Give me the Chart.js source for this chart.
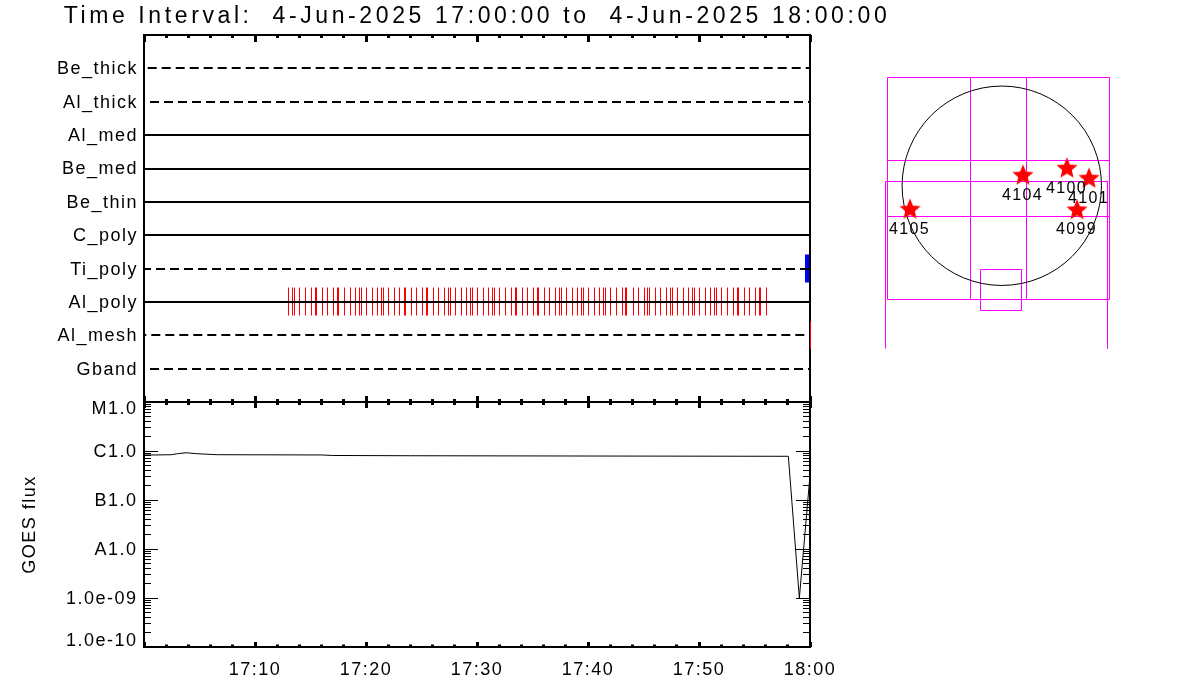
<!DOCTYPE html>
<html>
<head>
<meta charset="utf-8">
<script src="https://cdn.jsdelivr.net/npm/chart.js@4"></script>
<style>
html,body{margin:0;padding:0;background:#fff;width:1200px;height:700px;overflow:hidden}
canvas{position:absolute;left:0;top:0}
</style>
</head>
<body>
<canvas id="rows" width="1200" height="700"></canvas>
<canvas id="goes" width="1200" height="700"></canvas>
<canvas id="sun" width="1200" height="700"></canvas>
<script>
// ---------- data ----------
const titleText = 'Time Interval:  4-Jun-2025 17:00:00 to  4-Jun-2025 18:00:00';
const filterNames = ['Gband','Al_mesh','Al_poly','Ti_poly','C_poly','Be_thin','Be_med','Al_med','Al_thick','Be_thick'];
const filterRows  = [1,2,3,4,5,6,7,8,9,10];
const filterDashed = [true,true,false,true,false,false,false,false,true,true];
const filterDashPhase = [8,6.7,0,2,0,0,0,0,8,10.3];
const rowSpan = [0,60];
const alPolyRow = 3, tiPolyRow = 4, alMeshRow = 2;
const alPolyEvents = [13.00,13.36,13.54,13.99,14.53,15.07,15.43,15.56,16.07,16.52,17.06,17.42,17.54,18.05,18.59,19.04,19.40,19.58,20.03,20.57,21.02,21.38,21.56,22.01,22.55,23.00,23.45,23.57,24.08,24.53,25.07,25.43,25.56,26.07,26.52,27.05,27.42,27.60,28.05,28.59,29.04,29.40,29.58,30.03,30.57,31.02,31.38,31.56,32.01,32.55,33.09,33.45,33.57,34.08,34.53,35.07,35.43,35.55,36.07,36.52,37.06,37.42,37.60,38.05,38.59,39.04,39.40,39.58,40.03,40.57,41.02,41.38,41.56,42.01,42.55,43.09,43.39,43.51,44.08,44.53,45.07,45.38,45.50,46.07,46.52,47.06,47.42,47.60,48.05,48.59,49.04,49.40,49.58,50.03,50.57,51.02,51.38,51.56,52.01,52.55,53.09,53.45,53.57,54.08,54.53,55.07,55.43,55.55,56.07];
const tiPolyEvents = [59.6,59.7,59.8,59.9];
const alMeshEvents = [60];
const eventHalfHeight = 0.42;

const goesMinutes = [0,1,2.5,3,3.8,4.8,6.6,16,17,24,40,58.05,59.04,60];
const goesFlux = [8.3e-7,8.3e-7,8.4e-7,8.8e-7,9.2e-7,8.8e-7,8.4e-7,8.3e-7,8.1e-7,8.0e-7,7.9e-7,7.8e-7,1.0e-9,3.2e-7];

const timeMajorTicks = [0,10,20,30,40,50,60];
const timeMajorLabels = ['','17:10','17:20','17:30','17:40','17:50','18:00'];
const timeMinorTicks = [2,4,6,8,12,14,16,18,22,24,26,28,32,34,36,38,42,44,46,48,52,54,56,58];
const fluxDecades = [1e-5,1e-6,1e-7,1e-8,1e-9,1e-10];
const fluxLabels = ['M1.0','C1.0','B1.0','A1.0','1.0e-09','1.0e-10'];
const fluxMultipliers = [2,3,4,5,6,7,8,9];
const goesAxisTitle = 'GOES flux';

const arRegions = ['4105','4104','4100','4101','4099'];
const arX = [-870,201,618,827,713];
const arY = [-217,105,172,77,-223];
const fovGrid = [
  [[-1083,1027],[1021,1027],[1021,-1078],[-1083,-1078],[-1083,1027]],
  [[-297,1027],[-297,-1078]],
  [[234,1027],[234,-1078]],
  [[-1083,240],[1021,240]],
  [[-1083,-291],[1021,-291]],
  [[-1102,-1542],[-1102,41],[1002,41],[1002,-1542]],
  [[-202,-793],[187,-793],[187,-1182],[-202,-1182],[-202,-793]]
];
const limbCentre = [0,0];

// ---------- style ----------
const FONT = 'Liberation Sans';
const SPACING = '1.5px';
const BLACK = '#000000', RED = '#ff0000', BLUE = '#0000ff', MAGENTA = '#ff00ff';
Chart.defaults.animation = false;
Chart.defaults.responsive = false;
Chart.defaults.font.family = FONT;
Chart.defaults.color = BLACK;

const eventData = (times,row) => times.flatMap(t => [
  {x:t,y:row-eventHalfHeight},{x:t,y:row+eventHalfHeight},{x:t,y:null}]);

// device-pixel snapping, like the vector device of the original
const snap = {
  id:'snap',
  afterDatasetsUpdate(chart){
    chart.data.datasets.forEach((d,i)=>{
      if(!d.snap) return;
      chart.getDatasetMeta(i).data.forEach(p=>{
        if(d.snap==='even'){ p.y=Math.round(p.y+.1); }
        else { p.x=Math.floor(p.x)+.5; p.y=Math.floor(p.y)+.5; }
      });
    });
  }
};

// letter spacing, nudged labels
const textTweaks = {
  id:'textTweaks',
  beforeDraw(chart,_,o){
    chart.ctx.letterSpacing = SPACING;
    const s=chart.scales.y, items=s.getLabelItems(chart.chartArea);
    items.forEach((it,k)=>{
      it.options.translation[1]+=(o.shiftAll||0)+((o.shift&&o.shift[k])||0);
    });
    const tb=chart.titleBlock;
    if(tb && tb.options.display && !tb._wrapped){
      const d=tb.draw.bind(tb);
      tb.draw=function(){
        const c=chart.ctx; c.save(); c.letterSpacing=o.titleSpacing;
        tb.left=o.titleBox[0]; tb.right=o.titleBox[1];
        d(); c.restore();
      };
      tb._wrapped=true;
    }
  }
};

// frame and tick marks, placed through the chart's scales
const frame = {
  id:'frame',
  beforeDatasetsDraw(chart,_,o){
    const {ctx,chartArea:a,scales}=chart, x=scales.x, y=scales.y;
    ctx.save();
    ctx.strokeStyle=BLACK;
    ctx.lineWidth=2;
    ctx.strokeRect(a.left,a.top,a.right-a.left,a.bottom-a.top);
    const mark=(list,edge,dir,len)=>{
      ctx.lineWidth=3;
      list.forEach(t=>{
        const px=Math.floor(x.getPixelForValue(t))+.5;
        ctx.beginPath();ctx.moveTo(px,edge);ctx.lineTo(px,edge+dir*len);ctx.stroke();
      });
    };
    mark(timeMinorTicks,a.top,1,o.topLen[0]);
    mark(timeMajorTicks,a.top,1,o.topLen[1]);
    mark(timeMinorTicks,a.bottom,-1,o.botLen[0]);
    mark(timeMajorTicks,a.bottom,-1,o.botLen[1]);
    if(o.yTicks){
      ctx.lineWidth=1;
      const side=(v,len)=>{
        const py=Math.floor(y.getPixelForValue(v))+.5;
        ctx.beginPath();ctx.moveTo(a.left,py);ctx.lineTo(a.left+len,py);ctx.stroke();
        ctx.beginPath();ctx.moveTo(a.right,py);ctx.lineTo(a.right-len,py);ctx.stroke();
      };
      fluxDecades.forEach(v=>side(v,14));
      fluxDecades.slice(1).forEach(v=>fluxMultipliers.forEach(m=>side(v*m,7)));
    }
    ctx.restore();
  }
};

// ---------- filter rows ----------
const rowSets = filterRows.map((r,i)=>({
  label:filterNames[i],
  data:[{x:rowSpan[0],y:r},{x:rowSpan[1],y:r}],
  showLine:true,pointRadius:0,borderColor:BLACK,borderWidth:2,
  borderDash:filterDashed[i]?[9,5]:[],borderDashOffset:filterDashPhase[i],
  clip:false,snap:'even'
}));
const eventSet=(label,times,row,color)=>({
  label,data:eventData(times,row),showLine:true,pointRadius:0,
  borderColor:color,borderWidth:1,clip:false,snap:'odd',spanGaps:false
});
new Chart(document.getElementById('rows'),{
  type:'scatter',
  data:{datasets:[...rowSets,
    eventSet('Al_poly events',alPolyEvents,alPolyRow,RED),
    eventSet('Ti_poly events',tiPolyEvents,tiPolyRow,BLUE),
    eventSet('Al_mesh events',alMeshEvents,alMeshRow,RED)]},
  options:{
    layout:{autoPadding:false,padding:{left:0,right:390,top:0,bottom:298}},
    plugins:{
      legend:{display:false},tooltip:{enabled:false},
      title:{display:true,text:titleText,color:BLACK,
        font:{size:23,weight:'normal',lineHeight:1.2,family:FONT},padding:{top:3,bottom:4.4}},
      frame:{topLen:[3,7],botLen:[3,6]},
      textTweaks:{titleSpacing:'3.6px',titleBox:[0,954],shiftAll:1}
    },
    scales:{
      x:{type:'linear',min:0,max:60,display:false},
      y:{type:'linear',min:0,max:11,
        afterFit(s){s.width=144;},
        afterBuildTicks(s){s.ticks=filterRows.map(v=>({value:v}));},
        grid:{display:false,drawTicks:false},border:{display:false},
        ticks:{autoSkip:false,padding:6,font:{size:18},callback:(v,i)=>filterNames[i]}
      }
    }
  },
  plugins:[snap,textTweaks,frame]
});

// ---------- GOES ----------
new Chart(document.getElementById('goes'),{
  type:'scatter',
  data:{datasets:[{label:'GOES',data:goesMinutes.map((t,i)=>({x:t,y:goesFlux[i]})),
    showLine:true,pointRadius:0,borderColor:BLACK,borderWidth:1,clip:false}]},
  options:{
    layout:{autoPadding:false,padding:{left:0,right:390,top:402,bottom:0}},
    plugins:{legend:{display:false},tooltip:{enabled:false},
      frame:{topLen:[3,6],botLen:[2.5,5],yTicks:true},
      textTweaks:{shift:{0:6,5:-7},shiftAll:1.5}
    },
    scales:{
      x:{type:'linear',min:0,max:60,
        afterFit(s){s.height=53;},
        afterBuildTicks(s){s.ticks=timeMajorTicks.map(v=>({value:v}));},
        grid:{display:false,drawTicks:false},border:{display:false},
        ticks:{autoSkip:false,maxRotation:0,padding:12,font:{size:18},callback:(v,i)=>timeMajorLabels[i]}
      },
      y:{type:'logarithmic',min:1e-10,max:1e-5,
        afterFit(s){s.width=144;},
        afterBuildTicks(s){s.ticks=fluxDecades.map(v=>({value:v}));},
        grid:{display:false,drawTicks:false},border:{display:false},
        title:{display:true,text:goesAxisTitle,font:{size:18},padding:{top:19,bottom:0}},
        ticks:{autoSkip:false,padding:6.5,font:{size:18},callback:(v,i)=>fluxLabels[i]}
      }
    }
  },
  plugins:[textTweaks,frame]
});

// ---------- solar disc ----------
function starImage(){
  const c=document.createElement('canvas');c.width=24;c.height=24;
  const g=c.getContext('2d');g.fillStyle=RED;g.beginPath();
  for(let i=0;i<10;i++){
    const r=i%2?5:11.2, a=-Math.PI/2+i*Math.PI/5;
    g[i?'lineTo':'moveTo'](12+r*Math.cos(a),13+r*Math.sin(a));
  }
  g.closePath();g.fill();return c;
}
const regionLabels={
  id:'regionLabels',
  afterDatasetsDraw(chart){
    const {ctx,scales:{x,y}}=chart;
    ctx.save();
    ctx.font='16px "'+FONT+'"';ctx.letterSpacing='1.4px';ctx.fillStyle=BLACK;
    ctx.textAlign='center';ctx.textBaseline='middle';
    arRegions.forEach((n,i)=>ctx.fillText(n,x.getPixelForValue(arX[i])-.5,y.getPixelForValue(arY[i])+20.5));
    ctx.restore();
  }
};
new Chart(document.getElementById('sun'),{
  type:'scatter',
  data:{datasets:[
    ...fovGrid.map((seg,i)=>({label:'FOV '+i,data:seg.map(p=>({x:p[0],y:p[1]})),showLine:true,
      pointRadius:0,borderColor:MAGENTA,borderWidth:1,clip:false,snap:'odd'})),
    {label:'limb',data:[{x:limbCentre[0],y:limbCentre[1]}],pointRadius:99.7,pointBorderColor:BLACK,
      pointBackgroundColor:'transparent',pointBorderWidth:1,borderColor:BLACK,backgroundColor:'transparent',clip:false},
    {label:'regions',data:arX.map((x,i)=>({x,y:arY[i]})),pointStyle:starImage(),pointRadius:12,clip:false}
  ].reverse()},
  options:{
    layout:{autoPadding:false,padding:{left:850,right:50,top:50,bottom:350}},
    plugins:{legend:{display:false},tooltip:{enabled:false}},
    scales:{
      x:{type:'linear',min:-1439,max:1405,display:false},
      y:{type:'linear',min:-1557,max:1287,display:false}
    }
  },
  plugins:[snap,regionLabels]
});
</script>
</body>
</html>
